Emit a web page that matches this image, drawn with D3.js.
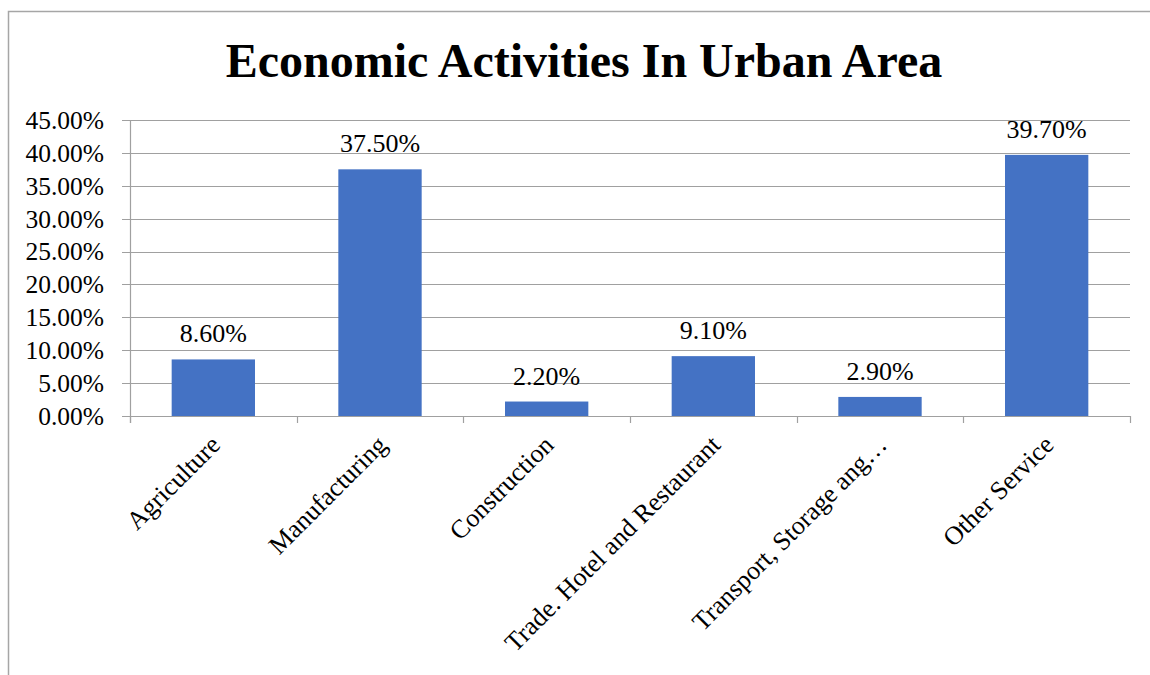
<!DOCTYPE html>
<html>
<head>
<meta charset="utf-8">
<script src="https://cdn.jsdelivr.net/npm/d3@7"></script>
<style>
  body { margin: 0; background: #fff; }
  svg { display: block; font-family: "Liberation Serif", "Times New Roman", serif; }
</style>
</head>
<body>
<div id="chart"></div>
<script>
// chart data
const categories = ["Agriculture", "Manufacturing", "Construction", "Trade. Hotel and Restaurant", "Transport, Storage ang\u2026", "Other Service"];
const values = [8.6, 37.5, 2.2, 9.1, 2.9, 39.7];
const yTicks = [0, 5, 10, 15, 20, 25, 30, 35, 40, 45];
const title = "Economic Activities In Urban Area";

const W = 1150, H = 675;
const m = {top: 120, right: 20, bottom: 259, left: 130};

const svg = d3.select("#chart").append("svg")
    .attr("width", W)
    .attr("height", H);

// outer frame
svg.append("rect")
    .attr("x", 8.5).attr("y", 11.5)
    .attr("width", W + 10).attr("height", H + 10)
    .attr("fill", "none")
    .attr("stroke", "#a6a6a6")
    .attr("stroke-width", 1.5);

svg.append("text")
    .attr("x", 584)
    .attr("y", 77)
    .attr("text-anchor", "middle")
    .attr("font-weight", "bold")
    .attr("font-size", 48)
    .attr("fill", "#000")
    .text(title);

const g = svg.append("g").attr("transform", "translate(" + m.left + "," + m.top + ")");
const w = W - m.left - m.right;  // 1000
const h = H - m.top - m.bottom;  // 296

let x = d3.scaleBand().domain(categories).range([0, w]).paddingInner(0.5).paddingOuter(0.25);
let xb = d3.scaleBand().domain(categories).range([0, w]); // for tick boundaries
let y = d3.scaleLinear().domain([0, 45]).range([h, 0]);

// gridlines
g.selectAll(".grid")
    .data(yTicks)
    .enter()
    .append("line")
    .attr("x1", -8)
    .attr("x2", w)
    .attr("y1", d => Math.round(y(d)) + 0.5)
    .attr("y2", d => Math.round(y(d)) + 0.5)
    .attr("stroke", "#a0a0a0")
    .attr("stroke-width", 1.2);

// y axis labels
g.selectAll(".ylab")
    .data(yTicks)
    .enter()
    .append("text")
    .attr("x", -26)
    .attr("y", d => y(d))
    .attr("dy", "0.35em")
    .attr("text-anchor", "end")
    .attr("font-size", 25.5)
    .attr("fill", "#000")
    .text(d => d.toFixed(2) + "%");

// y axis line
g.append("line")
    .attr("x1", 0.5).attr("x2", 0.5)
    .attr("y1", 0).attr("y2", h + 7)
    .attr("stroke", "#a0a0a0")
    .attr("stroke-width", 1.2);

// x category boundary ticks
const bounds = categories.map(c => xb(c)).concat([w]);
g.selectAll(".xtick")
    .data(bounds)
    .enter()
    .append("line")
    .attr("x1", d => Math.round(d) + 0.5)
    .attr("x2", d => Math.round(d) + 0.5)
    .attr("y1", h)
    .attr("y2", h + 7)
    .attr("stroke", "#a0a0a0")
    .attr("stroke-width", 1.2);

// bars
g.selectAll("rect.bar")
    .data(values)
    .enter()
    .append("rect")
    .attr("class", "bar")
    .attr("x", (d, i) => x(categories[i]))
    .attr("y", d => y(d))
    .attr("width", x.bandwidth())
    .attr("height", d => h - y(d))
    .attr("fill", "#4472c4");

// value labels
g.selectAll(".vlab")
    .data(values)
    .enter()
    .append("text")
    .attr("x", (d, i) => x(categories[i]) + x.bandwidth() / 2)
    .attr("y", d => y(d) - 17)
    .attr("text-anchor", "middle")
    .attr("font-size", 26)
    .attr("fill", "#000")
    .text(d => d.toFixed(2) + "%");

// x labels rotated
g.selectAll(".xlab")
    .data(categories)
    .enter()
    .append("text")
    .attr("transform", d => "translate(" + (x(d) + x.bandwidth() / 2 + 2) + "," + (h + 24) + ") rotate(-45)")
    .attr("text-anchor", "end")
    .attr("dy", "0.35em")
    .attr("font-size", 26)
    .attr("fill", "#000")
    .text(d => d);
</script>
</body>
</html>
